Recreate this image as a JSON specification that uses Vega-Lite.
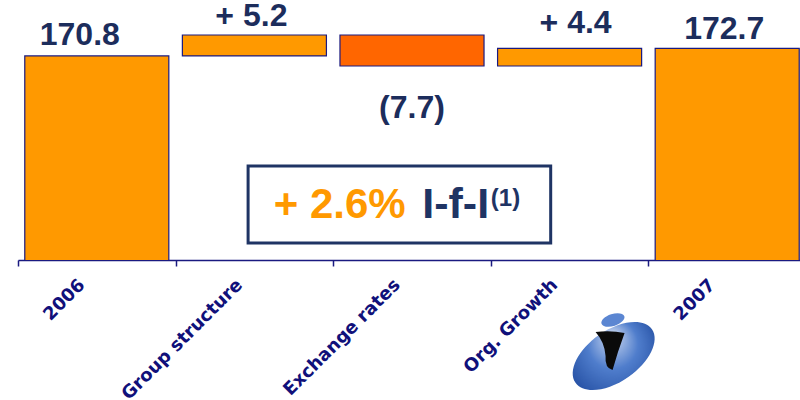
{
  "$schema": "https://vega.github.io/schema/vega-lite/v6.json",
  "width": 788,
  "height": 260,
  "autosize": "none",
  "padding": {"left": 18, "top": 0, "right": 0, "bottom": 140},
  "background": "white",
  "config": {"view": {"stroke": null}},
  "datasets": {
    "bars": [
      {"cat": "2006", "start": 0, "end": 170.8, "kind": "total", "label": "170.8"},
      {"cat": "Group structure", "start": 170.8, "end": 176.0, "kind": "pos", "label": "+ 5.2"},
      {"cat": "Exchange rates", "start": 176.0, "end": 168.3, "kind": "neg", "label": "(7.7)"},
      {"cat": "Org. Growth", "start": 168.3, "end": 172.7, "kind": "pos", "label": "+ 4.4"},
      {"cat": "2007", "start": 0, "end": 172.7, "kind": "total", "label": "172.7"}
    ]
  },
  "layer": [
    {
      "data": {"name": "bars"},
      "encoding": {
        "x": {
          "field": "cat", "type": "nominal", "sort": null,
          "scale": {"paddingInner": 0, "paddingOuter": 0},
          "axis": {
            "title": null, "tickBand": "extent", "tickSize": 6, "tickColor": "#1a1a80", "tickWidth": 1.5,
            "domainColor": "#1a1a80", "domainWidth": 1.5,
            "labelAngle": -45, "labelAlign": "right", "labelBaseline": "middle",
            "labelPadding": 16, "labelOffset": -15,
            "labelFont": "DejaVu Sans", "labelFontWeight": "bold", "labelFontSize": 18,
            "labelColor": "#10107a", "labelOverlap": false, "labelLimit": 300
          }
        }
      },
      "layer": [
        {
          "mark": {"type": "bar", "clip": true, "stroke": "#1a1a80", "strokeWidth": 1.2, "width": {"band": 0.914}},
          "encoding": {
            "y": {"field": "start", "type": "quantitative", "scale": {"domain": [120.1, 184.7], "zero": false, "nice": false}, "axis": null},
            "y2": {"field": "end"},
            "color": {"field": "kind", "type": "nominal", "scale": {"domain": ["total", "pos", "neg"], "range": ["#FF9900", "#FF9900", "#FF6600"]}, "legend": null}
          }
        },
        {
          "transform": [{"filter": "datum.kind != 'neg' && datum.cat != '2006' && datum.cat != 'Org. Growth'"}],
          "mark": {"type": "text", "dy": -9, "dx": -3, "baseline": "alphabetic", "font": "Liberation Sans", "fontWeight": "bold", "fontSize": 32, "color": "#1c2d5c"},
          "encoding": {
            "y": {"field": "end", "type": "quantitative"},
            "text": {"field": "label"}
          }
        },
        {
          "transform": [{"filter": "datum.cat == '2006'"}],
          "mark": {"type": "text", "dy": -11, "dx": -17, "baseline": "alphabetic", "font": "Liberation Sans", "fontWeight": "bold", "fontSize": 32, "color": "#1c2d5c"},
          "encoding": {
            "y": {"field": "end", "type": "quantitative"},
            "text": {"field": "label"}
          }
        },
        {
          "transform": [{"filter": "datum.cat == 'Org. Growth'"}],
          "mark": {"type": "text", "dy": -15, "dx": 6, "baseline": "alphabetic", "font": "Liberation Sans", "fontWeight": "bold", "fontSize": 32, "color": "#1c2d5c"},
          "encoding": {
            "y": {"field": "end", "type": "quantitative"},
            "text": {"field": "label"}
          }
        },
        {
          "transform": [{"filter": "datum.kind == 'neg'"}],
          "mark": {"type": "text", "dy": 42, "baseline": "middle", "font": "Liberation Sans", "fontWeight": "bold", "fontSize": 32, "color": "#1c2d5c"},
          "encoding": {
            "y": {"field": "end", "type": "quantitative"},
            "text": {"field": "label"}
          }
        }
      ]
    },
    {
      "data": {"values": [{"note": "box"}]},
      "layer": [
        {
          "mark": {"type": "rect", "fill": "white", "stroke": "#1f3464", "strokeWidth": 3},
          "encoding": {
            "x": {"datum": 1.46, "type": "quantitative", "scale": {"domain": [0, 5], "nice": false, "zero": false}, "axis": null},
            "x2": {"datum": 3.38},
            "y": {"datum": 143.45, "type": "quantitative"},
            "y2": {"datum": 124.3}
          }
        },
        {
          "mark": {"type": "text", "text": "+ 2.6%", "align": "right", "baseline": "alphabetic", "font": "Liberation Sans", "fontWeight": "bold", "fontSize": 42, "color": "#FF9900"},
          "encoding": {
            "x": {"datum": 2.46, "type": "quantitative"},
            "y": {"datum": 130.5, "type": "quantitative"}
          }
        },
        {
          "mark": {"type": "text", "text": "I-f-I", "align": "left", "baseline": "alphabetic", "font": "Liberation Sans", "fontWeight": "bold", "fontSize": 43, "color": "#1f3464"},
          "encoding": {
            "x": {"datum": 2.565, "type": "quantitative"},
            "y": {"datum": 130.5, "type": "quantitative"}
          }
        },
        {
          "mark": {"type": "text", "text": "(1)", "align": "left", "baseline": "alphabetic", "font": "Liberation Sans", "fontWeight": "bold", "fontSize": 24, "color": "#1f3464"},
          "encoding": {
            "x": {"datum": 3.0, "type": "quantitative"},
            "y": {"datum": 133.6, "type": "quantitative"}
          }
        },
        {
          "mark": {"type": "point", "filled": true, "shape": "M -1 0 A 1 0.55 0 1 0 1 0 A 1 0.55 0 1 0 -1 0 Z", "size": 8700, "angle": -35, "opacity": 1,
            "color": {"gradient": "radial", "x1": 0.62, "y1": 0.3, "x2": 0.5, "y2": 0.5, "r1": 0, "r2": 0.6, "stops": [{"offset": 0, "color": "#d0dcf2"}, {"offset": 0.45, "color": "#4f7dcc"}, {"offset": 1, "color": "#1c469a"}]}},
          "encoding": {
            "x": {"datum": 3.78, "type": "quantitative"},
            "y": {"datum": 96.25, "type": "quantitative"}
          }
        },
        {
          "mark": {"type": "point", "filled": true, "shape": "M -0.75 -0.9 Q 0 -1 0.7 -0.85 Q 0.35 0.1 0.1 1 Q -0.3 0.9 -0.25 0.3 Q -0.3 -0.4 -0.75 -0.9 Z", "size": 1600, "angle": 0, "opacity": 1, "color": "#0a0a0a"},
          "encoding": {
            "x": {"datum": 3.76, "type": "quantitative"},
            "y": {"datum": 97.75, "type": "quantitative"}
          }
        },
        {
          "mark": {"type": "point", "filled": true, "shape": "M -1 0 A 1 0.5 0 1 0 1 0 A 1 0.5 0 1 0 -1 0 Z", "size": 576, "angle": -18, "opacity": 1, "color": "#5b86d2"},
          "encoding": {
            "x": {"datum": 3.775, "type": "quantitative"},
            "y": {"datum": 105.2, "type": "quantitative"}
          }
        }
      ]
    }
  ],
  "resolve": {"scale": {"x": "independent"}}
}
